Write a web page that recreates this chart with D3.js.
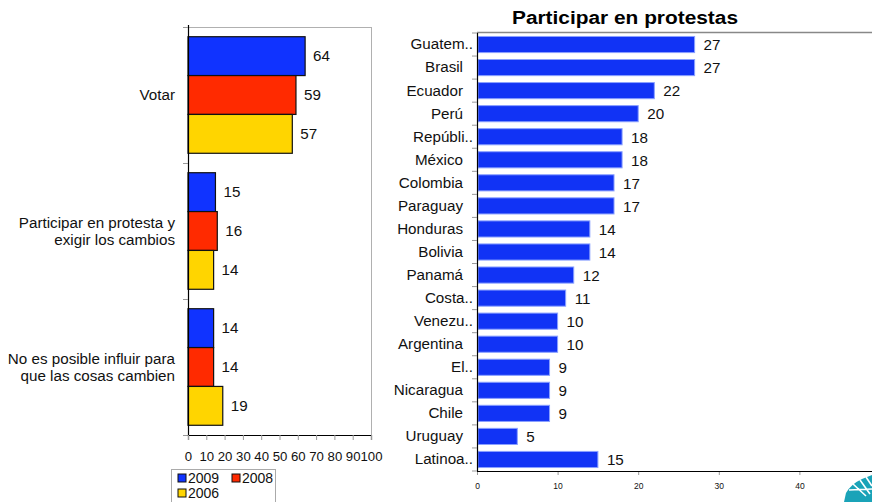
<!DOCTYPE html>
<html>
<head>
<meta charset="utf-8">
<script src="https://cdn.jsdelivr.net/npm/d3@7/dist/d3.min.js"></script>
<style>
  html, body { margin: 0; padding: 0; background: #fff; }
  svg { display: block; font-family: "Liberation Sans", Arial, Helvetica, sans-serif; }
</style>
</head>
<body>
<svg id="chart" width="872" height="502"></svg>
<script>
// ---- Left chart data ----
const groups = ["Votar", "Participar en protesta y\nexigir los cambios", "No es posible influir para\nque las cosas cambien"];
const years = ["2009", "2008", "2006"];
const values2009 = [64, 15, 14];
const values2008 = [59, 16, 14];
const values2006 = [57, 14, 19];
const leftTicks = [0, 10, 20, 30, 40, 50, 60, 70, 80, 90, 100];

// ---- Right chart data ----
const rightTitle = "Participar en protestas";
const countries = ["Guatem..", "Brasil", "Ecuador", "Perú", "Repúbli..", "México", "Colombia", "Paraguay",
  "Honduras", "Bolivia", "Panamá", "Costa..", "Venezu..", "Argentina", "El..", "Nicaragua", "Chile", "Uruguay", "Latinoa.."];
const protestValues = [27, 27, 22, 20, 18, 18, 17, 17, 14, 14, 12, 11, 10, 10, 9, 9, 9, 5, 15];
const rightTicks = [0, 10, 20, 30, 40];

const colors = {"2009": "#1033ff", "2008": "#ff2a00", "2006": "#ffd500"};
const svg = d3.select("#chart");
const FS = 15.2;

// ================= LEFT CHART =================
const L = {x0: 188, x1: 371, y0: 27, y1: 435};
const lx = d3.scaleLinear().domain([0, 100]).range([L.x0, L.x1]);
const ly = d3.scaleBand().domain(groups).range([L.y0, L.y1]).paddingInner(0).paddingOuter(0);
const inner = d3.scaleBand().domain(years).range([0, ly.bandwidth()]).paddingInner(0).paddingOuter(0.25);

const series = {"2009": values2009, "2008": values2008, "2006": values2006};
const gL = svg.append("g");

// frame (top & right gray)
gL.append("line").attr("x1", L.x0 - 3).attr("x2", L.x1).attr("y1", L.y0 + 0.5).attr("y2", L.y0 + 0.5).attr("stroke", "#b0b0b0");
gL.append("line").attr("x1", L.x1 + 0.5).attr("x2", L.x1 + 0.5).attr("y1", L.y0).attr("y2", L.y1).attr("stroke", "#b0b0b0");

groups.forEach((g, gi) => {
  years.forEach(yr => {
    const v = series[yr][gi];
    const y = ly(g) + inner(yr);
    gL.append("rect")
      .attr("x", lx(0)).attr("y", y)
      .attr("width", lx(v) - lx(0)).attr("height", inner.bandwidth())
      .attr("fill", colors[yr]).attr("stroke", "#111").attr("stroke-width", 1.2);
    gL.append("text")
      .attr("x", lx(v) + 8).attr("y", y + inner.bandwidth() / 2)
      .attr("dy", "0.35em").attr("font-size", FS).attr("fill", "#111")
      .text(v);
  });
  const lines = g.split("\n");
  const cy = ly(g) + ly.bandwidth() / 2;
  lines.forEach((ln, i) => {
    gL.append("text")
      .attr("x", 175).attr("y", cy + (i - (lines.length - 1) / 2) * 17.5)
      .attr("dy", "0.35em").attr("text-anchor", "end")
      .attr("font-size", FS).attr("fill", "#111").text(ln);
  });
});

// y axis (no labels, ticks at group boundaries)
gL.append("line").attr("x1", L.x0 + 0.5).attr("x2", L.x0 + 0.5).attr("y1", L.y0 - 2).attr("y2", L.y1).attr("stroke", "#000").attr("stroke-width", 1.2);
[0, 1, 2, 3].forEach(i => {
  const yy = i < 3 ? ly(groups[i]) : L.y1;
  gL.append("line").attr("x1", L.x0 - 5).attr("x2", L.x0).attr("y1", yy + 0.5).attr("y2", yy + 0.5).attr("stroke", "#999");
});

// x axis
const axL = gL.append("g").attr("transform", `translate(0,${L.y1})`)
  .call(d3.axisBottom(lx).tickValues(leftTicks).tickSize(5).tickPadding(12).tickFormat(d3.format("d")));
axL.select(".domain").attr("stroke", "#000").attr("stroke-width", 1.2);
axL.selectAll(".tick line").attr("stroke", "#999");
axL.selectAll("text").attr("font-size", 13.2).attr("fill", "#111").attr("font-family", "Liberation Sans, Arial, sans-serif");

// legend
const lg = gL.append("g");
lg.append("rect").attr("x", 171.5).attr("y", 469.5).attr("width", 104).attr("height", 40).attr("fill", "#fff").attr("stroke", "#aaa");
const legPos = [[178, 478], [232, 478], [178, 493]];
years.forEach((yr, i) => {
  const [px, py] = legPos[i];
  lg.append("rect").attr("x", px).attr("y", py - 4).attr("width", 8).attr("height", 8)
    .attr("fill", colors[yr]).attr("stroke", "#111").attr("stroke-width", 1);
  lg.append("text").attr("x", px + 10).attr("y", py).attr("dy", "0.35em")
    .attr("font-size", 14).attr("fill", "#111").text(yr);
});

// ================= RIGHT CHART =================
const R = {x0: 477, y0: 33, y1: 471};
const rx = d3.scaleLinear().domain([0, 10]).range([R.x0, R.x0 + 80.6]);
const ry = d3.scaleBand().domain(countries).range([R.y0, R.y1]).paddingInner(0.3).paddingOuter(0.15);
const gR = svg.append("g");

gR.append("text").attr("x", 625).attr("y", 24).attr("text-anchor", "middle")
  .attr("font-size", 17.5).attr("font-weight", "bold").attr("fill", "#000")
  .attr("textLength", 226).attr("lengthAdjust", "spacingAndGlyphs")
  .text(rightTitle);

gR.append("line").attr("x1", R.x0).attr("x2", 872).attr("y1", R.y0 - 0.5).attr("y2", R.y0 - 0.5).attr("stroke", "#888").attr("stroke-width", 1.5);

countries.forEach((c, i) => {
  const v = protestValues[i];
  gR.append("rect").attr("x", rx(0) + 1).attr("y", ry(c))
    .attr("width", rx(v) - rx(0) - 1).attr("height", ry.bandwidth())
    .attr("fill", "#1133f5").attr("stroke", "#8aa0ff").attr("stroke-width", 1);
  gR.append("text").attr("x", rx(v) + 9).attr("y", ry(c) + ry.bandwidth() / 2)
    .attr("dy", "0.38em").attr("font-size", FS).attr("fill", "#111").text(v);
});

// y axis
const ayR = gR.append("g").attr("transform", `translate(${R.x0},0)`)
  .call(d3.axisLeft(ry).tickSize(0).tickPadding(6));
ayR.select(".domain").remove();
ayR.selectAll("text").attr("font-size", FS).attr("fill", "#111").attr("font-family", "Liberation Sans, Arial, sans-serif")
  .attr("x", d => d.endsWith("..") ? -4 : -14);
gR.append("line").attr("x1", R.x0 + 0.5).attr("x2", R.x0 + 0.5).attr("y1", R.y0).attr("y2", R.y1).attr("stroke", "#000").attr("stroke-width", 1.2);
countries.concat(["__end"]).forEach((c, i) => {
  const yy = i < countries.length ? ry(c) - ry.step() * ry.paddingInner() / 2 : R.y1;
  gR.append("line").attr("x1", R.x0 - 5).attr("x2", R.x0).attr("y1", yy).attr("y2", yy).attr("stroke", "#999");
});

// x axis
const axR = gR.append("g").attr("transform", `translate(0,${R.y1})`)
  .call(d3.axisBottom(rx).tickValues(rightTicks).tickSize(4).tickPadding(8).tickFormat(d3.format("d")));
axR.select(".domain").remove();
gR.append("line").attr("x1", R.x0).attr("x2", 872).attr("y1", R.y1 + 0.5).attr("y2", R.y1 + 0.5).attr("stroke", "#000").attr("stroke-width", 1.2);
axR.selectAll(".tick line").attr("stroke", "#999");
axR.selectAll("text").attr("font-size", 8.5).attr("fill", "#111").attr("font-family", "Liberation Sans, Arial, sans-serif");

// logo (decorative)
const logo = svg.append("g");
logo.append("path").attr("fill", "#1aa3b8")
  .attr("d", "M844,502 L846,493 Q851,484 862,479 L872,475 L872,502 Z");
logo.append("path").attr("fill", "none").attr("stroke", "#fff").attr("stroke-width", 1.6)
  .attr("d", "M849,490 L872,489 M853,484 L866,496 M860,480 L870,494 M866,477 L872,486");
</script>
</body>
</html>
